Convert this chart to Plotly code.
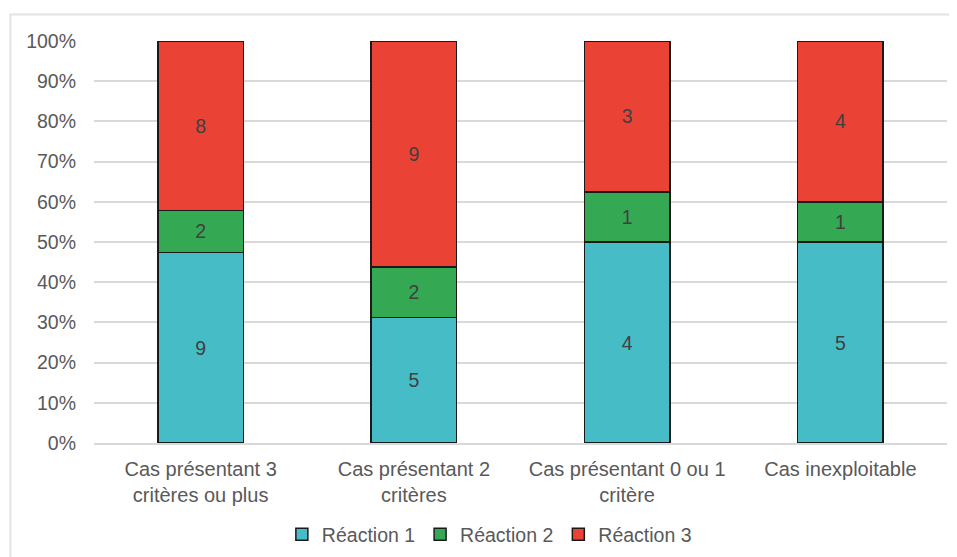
import plotly.graph_objects as go

categories = [
    "Cas présentant 3<br>critères ou plus",
    "Cas présentant 2<br>critères",
    "Cas présentant 0 ou 1<br>critère",
    "Cas inexploitable",
]
reaction_1 = [9, 5, 4, 5]
reaction_2 = [2, 2, 1, 1]
reaction_3 = [8, 9, 3, 4]

series = [
    ("Réaction 1", reaction_1, "#46BDC6"),
    ("Réaction 2", reaction_2, "#34A853"),
    ("Réaction 3", reaction_3, "#EA4335"),
]

fig = go.Figure()
for name, vals, color in series:
    fig.add_trace(go.Bar(
        x=categories, y=vals, name=name,
        text=vals, textposition="inside", insidetextanchor="middle",
        textfont=dict(size=19.5, color="#404040"),
        marker=dict(color=color, line=dict(color="#1a1a1a", width=1.5)),
    ))

# the page body adds an 8px offset, so the figure is 8px smaller
fig.update_layout(
    barmode="stack", barnorm="percent", bargap=0.6,
    width=949, height=549,
    margin=dict(l=86, r=10, t=33, b=114, autoexpand=False),
    paper_bgcolor="white", plot_bgcolor="white",
    font=dict(family="Liberation Sans, Arial, sans-serif", size=19.5, color="#595959"),
    uniformtext=dict(mode="show", minsize=19),
    legend=dict(orientation="h", x=0.4635, xanchor="center", y=-0.228, yanchor="middle",
                font=dict(size=19.5, color="#595959"), itemwidth=30, traceorder="normal"),
    showlegend=True,
)
fig.update_yaxes(range=[0, 100], dtick=10, ticksuffix="%", showgrid=True,
                 gridcolor="#d9d9d9", gridwidth=1.5, zeroline=False, automargin=False,
                 ticklabelstandoff=17, tickfont=dict(size=19.5, color="#595959"))
fig.update_xaxes(showline=True, linecolor="#d9d9d9", linewidth=1.5, automargin=False,
                 ticklabelstandoff=7, tickfont=dict(size=20, color="#595959"))

# outer chart frame (right and bottom edges run off the picture)
fig.add_shape(type="rect", xref="paper", yref="paper",
              x0=-0.098, x1=1.2, y0=-0.5, y1=1.066,
              line=dict(color="#e3e3e3", width=2), layer="below")

fig.write_html("out.html")
